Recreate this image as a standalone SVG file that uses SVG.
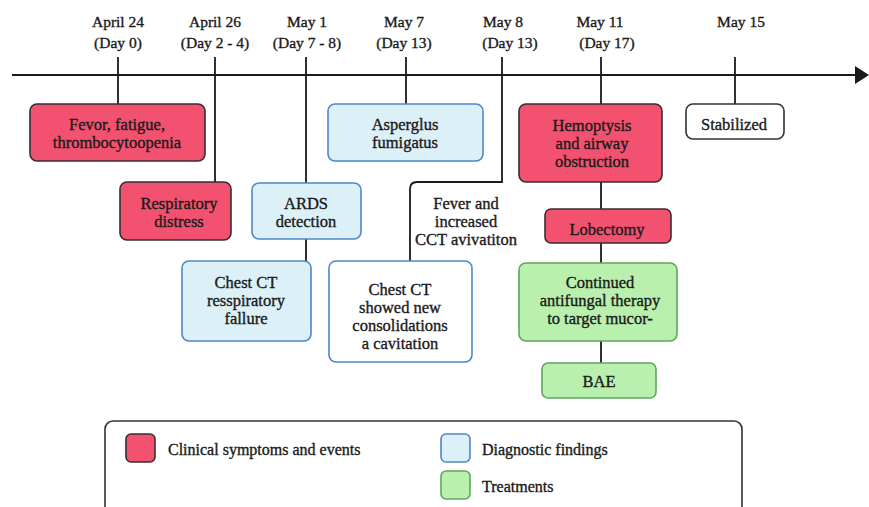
<svg xmlns="http://www.w3.org/2000/svg" width="869" height="507" viewBox="0 0 869 507">
<defs>
<style>
text{font-family:"Liberation Serif","DejaVu Serif",serif;fill:#1a1a1a;stroke:#1a1a1a;stroke-width:0.35;text-anchor:middle}
.d{font-size:15.5px}
.t{font-size:16.5px}
.l{font-size:16px;text-anchor:start}
.red{fill:#f2526f;stroke:#3a2c30;stroke-width:1.6}
.blue{fill:#dcf0f8;stroke:#4f86c6;stroke-width:1.6}
.green{fill:#b9f0ae;stroke:#5da65b;stroke-width:1.6}
.wb{fill:#fff;stroke:#4f86c6;stroke-width:1.6}
.wk{fill:#fff;stroke:#333;stroke-width:1.6}
.c{fill:none;stroke:#1a1a1a;stroke-width:1.8}
</style>
</defs>
<rect width="869" height="507" fill="#fff"/>
<g id="timeline">
<line x1="12" y1="75" x2="857" y2="75" stroke="#1a1a1a" stroke-width="2"/>
<polygon points="855,66 869,75 855,84" fill="#1a1a1a"/>
</g>
<g id="dates">
<text class="d" x="118" y="27">April 24</text><text class="d" x="118" y="48">(Day 0)</text>
<text class="d" x="215" y="27">April 26</text><text class="d" x="215" y="48">(Day 2 - 4)</text>
<text class="d" x="307" y="27">May 1</text><text class="d" x="307" y="48">(Day 7 - 8)</text>
<text class="d" x="404" y="27">May 7</text><text class="d" x="404" y="48">(Day 13)</text>
<text class="d" x="503" y="27">May 8</text><text class="d" x="510" y="48">(Day 13)</text>
<text class="d" x="600" y="27">May 11</text><text class="d" x="607" y="48">(Day 17)</text>
<text class="d" x="741" y="27">May 15</text>
</g>
<g id="connectors">
<path class="c" d="M118,57V104"/>
<path class="c" d="M215,57V182"/>
<path class="c" d="M306,57V183M306,239V261"/>
<path class="c" d="M406,57V104"/>
<path class="c" d="M502,57V182H417Q410,182 410,189V261"/>
<path class="c" d="M601,57V104M601,182V209M601,243V263M601,341V363"/>
<path class="c" d="M735,57V104"/>
</g>
<g id="n1"><rect class="red" x="30" y="104" width="175" height="57" rx="7"/><text class="t" x="117" y="130">Fevor, fatigue,</text><text class="t" x="117" y="148">thrombocytoopenia</text></g>
<g id="n2"><rect class="red" x="120" y="182" width="111" height="58" rx="7"/><text class="t" x="179" y="209">Respiratory</text><text class="t" x="179" y="227">distress</text></g>
<g id="n3"><rect class="blue" x="252" y="183" width="109" height="56" rx="7"/><text class="t" x="306" y="209">ARDS</text><text class="t" x="306" y="227">detection</text></g>
<g id="n4"><rect class="blue" x="182" y="261" width="129" height="80" rx="7"/><text class="t" x="246" y="288">Chest CT</text><text class="t" x="246" y="306">resspiratory</text><text class="t" x="246" y="324">fallure</text></g>
<g id="n5"><rect class="blue" x="328" y="104" width="155" height="57" rx="7"/><text class="t" x="405" y="130">Asperglus</text><text class="t" x="405" y="148">fumigatus</text></g>
<g id="n6"><text class="t" x="466" y="209">Fever and</text><text class="t" x="466" y="227">increased</text><text class="t" x="466" y="245">CCT avivatiton</text></g>
<g id="n7"><rect class="wb" x="329" y="261" width="143" height="101" rx="7"/><text class="t" x="400" y="295">Chest CT</text><text class="t" x="400" y="313">showed new</text><text class="t" x="400" y="331">consolidations</text><text class="t" x="400" y="349">a cavitation</text></g>
<g id="n8"><rect class="red" x="519" y="104" width="143" height="78" rx="7"/><text class="t" x="592" y="131">Hemoptysis</text><text class="t" x="592" y="149">and airway</text><text class="t" x="592" y="167">obstruction</text></g>
<g id="n9"><rect class="red" x="545" y="209" width="126" height="34" rx="6"/><text class="t" x="607" y="235">Lobectomy</text></g>
<g id="n10"><rect class="green" x="519" y="263" width="158" height="78" rx="7"/><text class="t" x="600" y="288">Continued</text><text class="t" x="600" y="306">antifungal therapy</text><text class="t" x="600" y="324">to target mucor-</text></g>
<g id="n11"><rect class="green" x="542" y="363" width="114" height="35" rx="6"/><text class="t" x="599" y="387">BAE</text></g>
<g id="n12"><rect class="wk" x="686" y="104" width="98" height="35" rx="7"/><text class="t" x="734" y="130">Stabilized</text></g>
<g id="legend">
<rect x="105" y="421" width="637" height="100" rx="8" fill="#fff" stroke="#333" stroke-width="1.6"/>
<rect class="red" x="126" y="434" width="29" height="28" rx="5"/>
<text class="l" x="168" y="455">Clinical symptoms and events</text>
<rect class="blue" x="441" y="434" width="29" height="28" rx="5"/>
<text class="l" x="482" y="455">Diagnostic findings</text>
<rect class="green" x="441" y="471" width="29" height="28" rx="5"/>
<text class="l" x="482" y="492">Treatments</text>
</g>
</svg>
